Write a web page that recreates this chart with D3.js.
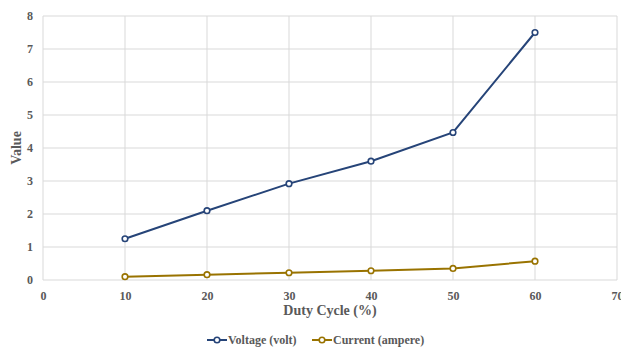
<!DOCTYPE html>
<html>
<head>
<meta charset="utf-8">
<script src="https://cdn.jsdelivr.net/npm/d3@7"></script>
<style>
body{margin:0;background:#fff;}
svg text{font-family:"Liberation Serif","Times New Roman",serif;font-weight:bold;fill:#595959;}
</style>
</head>
<body>
<div id="chart"></div>
<script>
var dutyCycle=[10,20,30,40,50,60];
var voltage=[1.25,2.1,2.92,3.6,4.47,7.5];
var current=[0.1,0.16,0.22,0.28,0.35,0.57];
var xTicks=[0,10,20,30,40,50,60,70];
var yTicks=[0,1,2,3,4,5,6,7,8];
var seriesNames=['Voltage (volt)','Current (ampere)'];
var seriesColors=['#264478','#997300'];

var margin={left:43,right:4,top:16,bottom:70};
var W=621,H=350;
var width=W-margin.left-margin.right;
var height=H-margin.top-margin.bottom;

var svg=d3.select('#chart')
    .append('svg')
    .attr('width',W)
    .attr('height',H);
var g=svg.append('g')
    .attr('transform','translate('+margin.left+','+margin.top+')');

var x=d3.scaleLinear().domain([0,70]).range([0,width]);
var y=d3.scaleLinear().domain([0,8]).range([height,0]);

// grid
g.selectAll('.hgrid')
    .data(yTicks)
    .enter().append('line')
    .attr('x1',0).attr('x2',width)
    .attr('y1',function(d){return y(d);})
    .attr('y2',function(d){return y(d);})
    .attr('stroke','#d9d9d9').attr('stroke-width',1);
g.selectAll('.vgrid')
    .data(xTicks)
    .enter().append('line')
    .attr('y1',0).attr('y2',height)
    .attr('x1',function(d){return x(d);})
    .attr('x2',function(d){return x(d);})
    .attr('stroke','#d9d9d9').attr('stroke-width',1);

// axes (labels only)
var xAxis=g.append('g')
    .attr('transform','translate(0,'+height+')')
    .call(d3.axisBottom(x).tickValues(xTicks).tickSize(0).tickPadding(11));
var yAxis=g.append('g')
    .call(d3.axisLeft(y).tickValues(yTicks).tickSize(0).tickPadding(10));
[xAxis,yAxis].forEach(function(a){
    a.attr('font-family',null).attr('font-size',null);
    a.select('.domain').remove();
    a.selectAll('text').style('font-size','12px').attr('fill','#595959');
});

// axis titles
svg.append('text')
    .attr('x',margin.left+width/2)
    .attr('y',315)
    .attr('text-anchor','middle')
    .style('font-size','14px')
    .text('Duty Cycle (%)');
svg.append('text')
    .attr('transform','translate(21,'+(margin.top+height/2)+') rotate(-90)')
    .attr('text-anchor','middle')
    .style('font-size','14px')
    .text('Value');

// series
var series=[voltage,current];
var line=d3.line()
    .x(function(d,i){return x(dutyCycle[i]);})
    .y(function(d){return y(d);});
series.forEach(function(s,k){
    g.append('path')
        .datum(s)
        .attr('d',line)
        .attr('fill','none')
        .attr('stroke',seriesColors[k])
        .attr('stroke-width',2);
    g.selectAll('.pt'+k)
        .data(s)
        .enter().append('circle')
        .attr('cx',function(d,i){return x(dutyCycle[i]);})
        .attr('cy',function(d){return y(d);})
        .attr('r',2.8)
        .attr('fill','#fff')
        .attr('stroke',seriesColors[k])
        .attr('stroke-width',1.6);
});

// legend
var legendX=[207,312];
seriesNames.forEach(function(n,k){
    var lg=svg.append('g').attr('transform','translate('+legendX[k]+',340)');
    lg.append('line')
        .attr('x1',0).attr('x2',20).attr('y1',0).attr('y2',0)
        .attr('stroke',seriesColors[k]).attr('stroke-width',2);
    lg.append('circle')
        .attr('cx',10).attr('cy',0).attr('r',2.8)
        .attr('fill','#fff').attr('stroke',seriesColors[k]).attr('stroke-width',1.6);
    lg.append('text')
        .attr('x',21).attr('y',4)
        .style('font-size','12px')
        .text(n);
});
</script>
</body>
</html>
